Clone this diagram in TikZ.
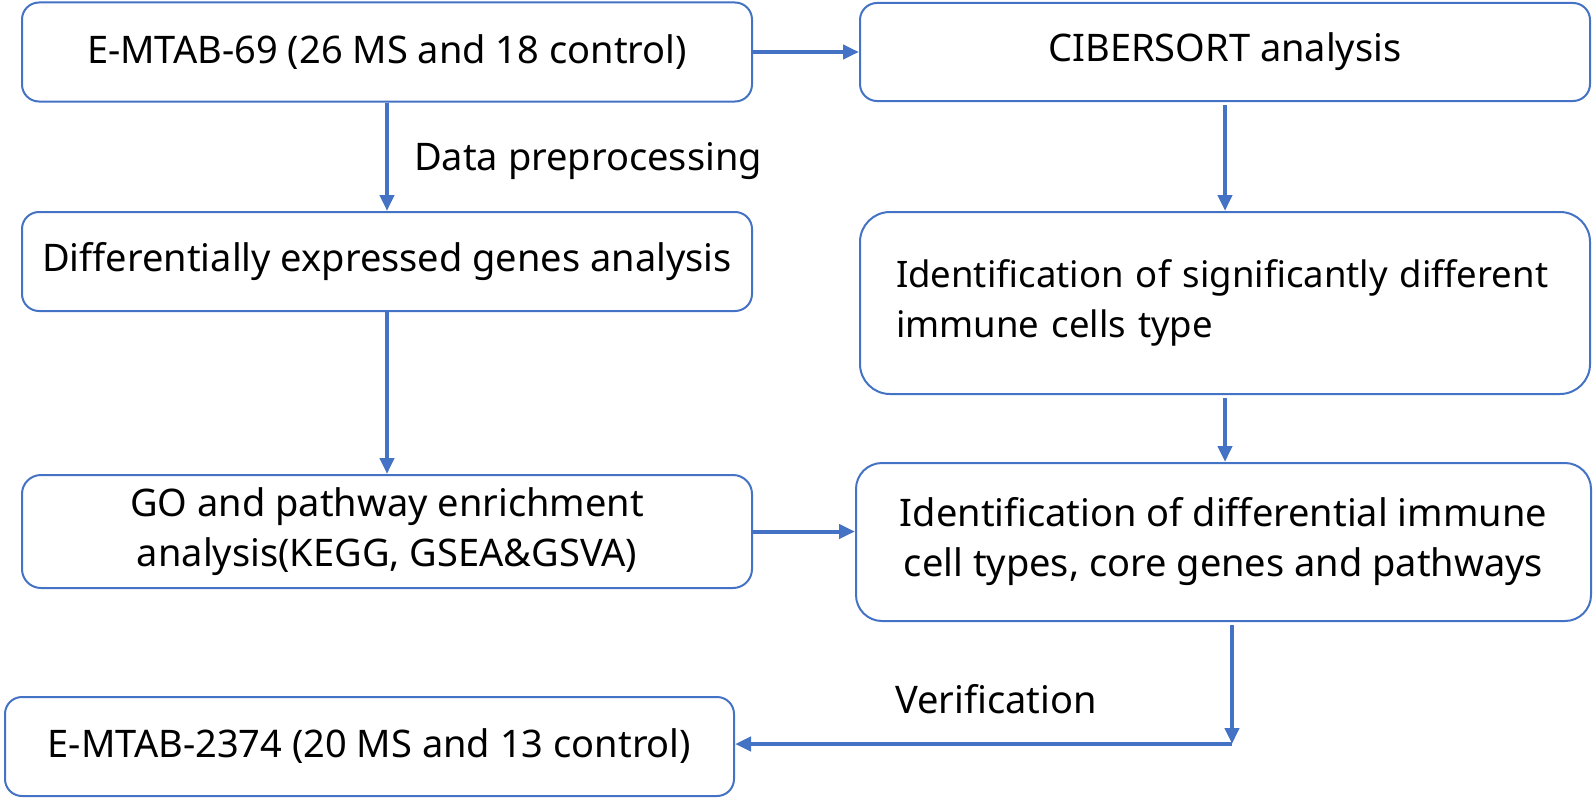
\documentclass[tikz,border=0pt]{standalone}
\usepackage{fontspec}
\setmainfont{Noto Sans}
\usetikzlibrary{arrows.meta,calc}
\definecolor{obl}{HTML}{4472C4}
\tikzset{
  box/.style={draw=obl, line width=2pt, rounded corners=17pt, align=center, inner sep=0pt,
    font=\fontsize{38pt}{50pt}\selectfont, text=black},
  arr/.style={draw=obl, line width=4pt, -{Triangle[length=16pt,width=14pt]}},
  lbl/.style={font=\fontsize{38pt}{50pt}\selectfont, text=black, inner sep=0pt}
}
\begin{document}
\begin{tikzpicture}[x=1pt,y=-1pt]
\useasboundingbox (0,0) rectangle (1594,800);
\node[box, minimum width=730pt, minimum height=99pt] (b1) at (387,52) {E-MTAB-69 (26 MS and 18 control)};
\node[box, minimum width=730pt, minimum height=98pt] (b2) at (1225,52) {CIBERSORT analysis};
\node[box, minimum width=730pt, minimum height=99pt] (b3) at (387,261.5) {Differentially expressed genes analysis};
\node[box, rounded corners=30pt, minimum width=730pt, minimum height=182pt, text width=658pt, inner xsep=36pt, align=left, font=\fontsize{36.5pt}{50pt}\selectfont] (b4) at (1225,303) {\mbox{Identification of significantly different}\\\mbox{immune cells type}};
\node[box, rounded corners=19pt, minimum width=730pt, minimum height=113pt] (b5) at (387,531.5) {GO and pathway enrichment\\analysis(KEGG, GSEA\&GSVA)};
\node[box, rounded corners=26pt, minimum width=735pt, minimum height=158pt] (b6) at (1223.5,542) {Identification of differential immune\\cell types, core genes and pathways};
\node[box, minimum width=729pt, minimum height=99pt] (b7) at (369.5,746.5) {E-MTAB-2374 (20 MS and 13 control)};
\node[lbl, anchor=base west] (dp) at (414,170) {Data preprocessing};
\node[lbl, anchor=base west] (vf) at (895,713) {Verification};
\coordinate (c1) at (1232,744);
\draw[arr] (b1.east) -- (b2.west);
\draw[arr] (b5.east) -- (b6.west |- b5.east);
\draw[arr] (b1.south) -- (b3.north);
\draw[arr] (b3.south) -- (b5.north);
\draw[arr, shorten <=3pt] (b2.south) -- (b4.north);
\draw[arr, shorten <=3pt] (b4.south) -- (b4.south |- b6.north);
\draw[arr, shorten <=3pt] (b6.south -| c1) -- (c1);
\draw[arr] (c1) -- (b7.east |- c1);
\end{tikzpicture}
\end{document}
